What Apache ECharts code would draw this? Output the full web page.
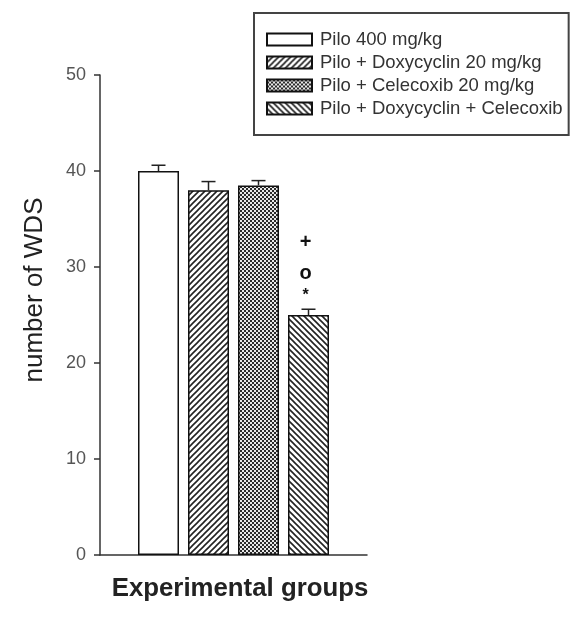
<!DOCTYPE html>
<html>
<head>
<meta charset="utf-8">
<script src="https://cdn.jsdelivr.net/npm/echarts@6/dist/echarts.min.js"></script>
<style>
  html, body { margin: 0; padding: 0; background: #fff; }
  #chart { width: 574px; height: 627px; }
</style>
</head>
<body>
<div id="chart"></div>
<script>
// Group names, means and error (SEM) values
const groups = ['Pilo 400 mg/kg', 'Pilo + Doxycyclin 20 mg/kg', 'Pilo + Celecoxib 20 mg/kg', 'Pilo + Doxycyclin + Celecoxib'];
const means = [40, 38, 38.5, 25];
const errors = [0.6, 0.9, 0.5, 0.6];
// Significance marks drawn above each bar, bottom to top
const sigMarks = [[], [], [], ['*', 'o', '+']];
const yTicks = { min: 0, max: 50, interval: 10 };

const FONT = 'Arial, "Liberation Sans", sans-serif';

function makePattern(kind) {
  const c = document.createElement('canvas');
  const s = kind === 'dots' ? 4 : 6;
  c.width = s; c.height = s;
  const g = c.getContext('2d');
  if (kind === 'white') {
    g.fillStyle = '#fff'; g.fillRect(0, 0, s, s);
  } else if (kind === 'dots') {
    g.fillStyle = '#2a2a2a'; g.fillRect(0, 0, s, s);
    g.fillStyle = '#e8e8e8';
    g.fillRect(0, 0, 2, 2);
    g.fillRect(2, 2, 2, 2);
  } else {
    g.fillStyle = '#fff'; g.fillRect(0, 0, s, s);
    g.strokeStyle = '#222'; g.lineWidth = 1.6;
    g.beginPath();
    if (kind === 'fwd') {
      g.moveTo(-1, s + 1); g.lineTo(s + 1, -1);
      g.moveTo(-1, 1); g.lineTo(1, -1);
      g.moveTo(s - 1, s + 1); g.lineTo(s + 1, s - 1);
    } else {
      g.moveTo(-1, -1); g.lineTo(s + 1, s + 1);
      g.moveTo(s - 1, -1); g.lineTo(s + 1, 1);
      g.moveTo(-1, s - 1); g.lineTo(1, s + 1);
    }
    g.stroke();
  }
  return c;
}
const fills = ['white', 'fwd', 'dots', 'back'].map(k => ({ image: makePattern(k), repeat: 'repeat' }));

const chart = echarts.init(document.getElementById('chart'));

const BAR_W = 41, BAR_GAP = 9;

const barSeries = groups.map((name, i) => ({
  name: name,
  type: 'bar',
  data: [means[i]],
  barWidth: BAR_W,
  barGap: (BAR_GAP / BAR_W * 100) + '%',
  itemStyle: { color: fills[i], borderColor: '#111', borderWidth: 1.5 },
  emphasis: { disabled: true },
  z: 2
}));

// Error bars (upper whisker) and significance marks for each group
const errSeries = {
  type: 'custom',
  silent: true,
  z: 5,
  data: [[0]],
  renderItem: function (params, api) {
    const children = [];
    const total = groups.length * BAR_W + (groups.length - 1) * BAR_GAP;
    const base = api.coord([0, 0]);
    for (let i = 0; i < groups.length; i++) {
      const cx = base[0] - total / 2 + BAR_W / 2 + i * (BAR_W + BAR_GAP);
      const top = api.coord([0, means[i]])[1];
      const hi = api.coord([0, means[i] + errors[i]])[1];
      children.push({ type: 'line', shape: { x1: cx, y1: top, x2: cx, y2: hi }, style: { stroke: '#222', lineWidth: 1.5 } });
      children.push({ type: 'line', shape: { x1: cx - 7, y1: hi, x2: cx + 7, y2: hi }, style: { stroke: '#222', lineWidth: 1.5 } });
      const offsets = [14, 36, 67];
      sigMarks[i].forEach((m, k) => {
        children.push({
          type: 'text',
          x: cx - 3, y: hi - offsets[k],
          style: {
            text: m, align: 'center', verticalAlign: 'middle',
            font: m === '*' ? 'bold 16px ' + FONT : 'bold 20px ' + FONT,
            fill: '#111'
          }
        });
      });
    }
    return { type: 'group', children: children };
  }
};

chart.setOption({
  animation: false,
  backgroundColor: '#fff',
  grid: { left: 100, right: 207, top: 75, bottom: 72 },
  legend: {
    orient: 'vertical',
    left: 254, top: 13,
    padding: [17, 6, 17, 12],
    itemWidth: 45, itemHeight: 12,
    itemGap: 4,
    icon: 'rect',
    borderColor: '#444', borderWidth: 2,
    textStyle: { fontFamily: FONT, fontSize: 18.5, lineHeight: 18, color: '#333', padding: [0, 0, 0, 3] },
    selectedMode: false,
    data: groups
  },
  xAxis: {
    type: 'category',
    data: [''],
    name: 'Experimental groups',
    nameLocation: 'middle',
    nameGap: 21,
    nameTextStyle: { fontFamily: FONT, fontSize: 25.8, fontWeight: 'bold', color: '#222', padding: [0, 0, 0, 13] },
    axisLine: { lineStyle: { color: '#333', width: 1.5 } },
    axisTick: { show: false },
    axisLabel: { show: false }
  },
  yAxis: {
    type: 'value',
    min: yTicks.min, max: yTicks.max, interval: yTicks.interval,
    name: 'number of WDS',
    nameLocation: 'middle',
    nameGap: 52,
    nameTextStyle: { fontFamily: FONT, fontSize: 26, color: '#222', padding: [0, 0, 0, 50] },
    axisLine: { show: true, lineStyle: { color: '#333', width: 1.5 } },
    axisTick: { show: true, length: 6, lineStyle: { color: '#333', width: 1.5 } },
    axisLabel: { fontFamily: FONT, fontSize: 18, color: '#555', margin: 14 },
    splitLine: { show: false }
  },
  series: barSeries.concat([errSeries])
});
</script>
</body>
</html>
